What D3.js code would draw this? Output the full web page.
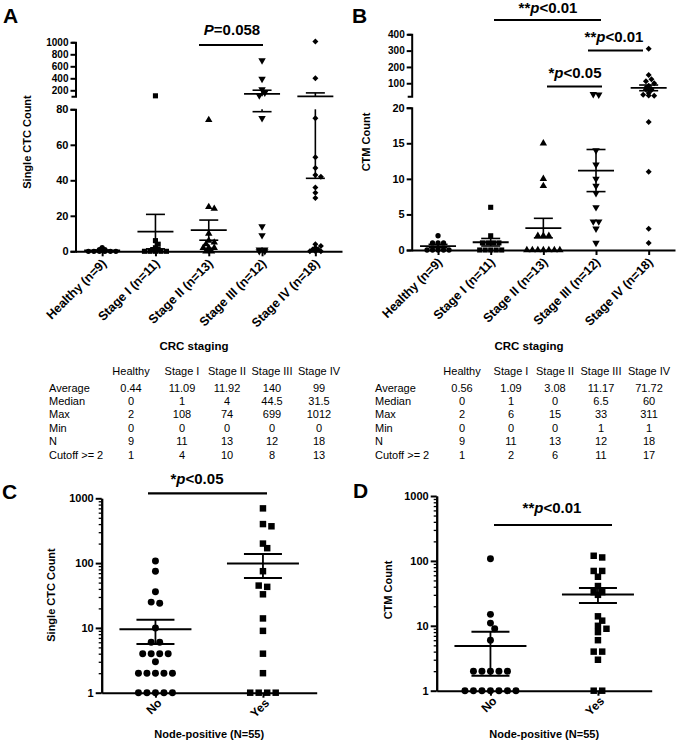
<!DOCTYPE html>
<html><head><meta charset="utf-8">
<script src="https://cdn.jsdelivr.net/npm/d3@7"></script>
<style>
body{margin:0;background:#fff}
svg{display:block}
text{font-family:"Liberation Sans",Arial,Helvetica,sans-serif;fill:#000}
</style>
</head><body>
<svg id="c" width="677" height="742"></svg>
<script>
// ---------------- DATA ----------------
const stageGroups = ["Healthy (n=9)", "Stage I (n=11)", "Stage II (n=13)", "Stage III (n=12)", "Stage IV (n=18)"];
const stageMarkers = ["circle", "square", "triUp", "triDown", "diamond"];

// Panel A: single CTC count per stage
const ctcHealthy = [2, 1, 1, 0, 0, 0, 0, 0, 0];
const ctcStage1 = [108, 6, 4, 2, 1, 1, 0, 0, 0, 0, 0];
const ctcStage2 = [74, 25, 24, 10, 6, 5, 4, 2, 2, 2, 1, 0, 0];
const ctcStage3 = [699, 390, 215, 160, 116, 75, 14, 9, 1, 1, 0, 0];
const ctcStage4 = [1012, 400, 75, 53, 47, 43, 42, 36, 33, 30, 4, 3, 2, 1, 1, 0, 0, 0];
const ctcLowTicks = [0, 20, 40, 60, 80];
const ctcUpTicks = [200, 400, 600, 800, 1000];

// Panel B: CTM count per stage
const ctmHealthy = [2, 1, 1, 1, 0, 0, 0, 0, 0];
const ctmStage1 = [6, 2, 1, 1, 1, 1, 0, 0, 0, 0, 0];
const ctmStage2 = [15, 10, 9, 2, 2, 2, 0, 0, 0, 0, 0, 0, 0];
const ctmStage3 = [33, 30, 14, 12, 10, 9, 8, 6, 4, 4, 3, 1];
const ctmStage4 = [311, 150, 124, 113, 100, 85, 72, 64, 61, 59, 40, 30, 25, 24, 18, 11, 3, 1];
const ctmLowTicks = [0, 5, 10, 15, 20];
const ctmUpTicks = [100, 200, 300, 400];

// Summary tables
const statHeaders = ["Healthy", "Stage I", "Stage II", "Stage III", "Stage IV"];
const statLabels = ["Average", "Median", "Max", "Min", "N", "Cutoff >= 2"];
const ctcStats = [
  ["0.44", "11.09", "11.92", "140", "99"],
  ["0", "1", "4", "44.5", "31.5"],
  ["2", "108", "74", "699", "1012"],
  ["0", "0", "0", "0", "0"],
  ["9", "11", "13", "12", "18"],
  ["1", "4", "10", "8", "13"]
];
const ctmStats = [
  ["0.56", "1.09", "3.08", "11.17", "71.72"],
  ["0", "1", "0", "6.5", "60"],
  ["2", "6", "15", "33", "311"],
  ["0", "0", "0", "1", "1"],
  ["9", "11", "13", "12", "18"],
  ["1", "2", "6", "11", "17"]
];

// Panels C/D: node-positive
const nodeGroups = ["No", "Yes"];
const nodeMarkers = ["circle", "square"];
const ctcNodeNo = [108, 75, 36, 25, 24, 10, 6, 6, 4, 4, 4, 4, 3, 2, 2, 2, 2, 2, 1, 1, 1, 1, 1, 0, 0, 0, 0, 0, 0, 0, 0, 0, 0, 0];
const ctcNodeYes = [699, 400, 370, 200, 170, 75, 45, 43, 33, 14, 9, 4, 2, 1, 1, 1, 1, 0, 0, 0, 0];
const ctmNodeNo = [108, 15, 11, 9, 6, 2, 2, 2, 2, 2, 1, 1, 1, 1, 1, 1, 1, 0, 0, 0, 0, 0, 0, 0, 0, 0, 0, 0, 0, 0, 0, 0, 0, 0];
const ctmNodeYes = [120, 113, 70, 70, 57, 41, 33, 33, 30, 14, 12, 10, 9, 8, 6, 4, 4, 3, 1, 1, 0];
const logTicks = [1, 10, 100, 1000];

// ---------------- HELPERS ----------------
const svg = d3.select("#c");
svg.append("rect").attr("width", 677).attr("height", 742).attr("fill", "#fff");

function sem(a) { return d3.deviation(a) / Math.sqrt(a.length); }

function markerPath(type, area) {
  const t = (type === "circle") ? d3.symbolCircle : (type === "triUp" || type === "triDown") ? d3.symbolTriangle : d3.symbolSquare;
  return d3.symbol(t, area)();
}
function markerRot(type) { return type === "triDown" ? 180 : type === "diamond" ? 45 : 0; }

// GraphPad-like scatter layout: rows of near-equal pixel y, centred, with collision shift
function swarm(values, yf, cx, s, T, size) {
  const pts = values.map(v => ({ v, y: yf(v) })).sort((a, b) => a.y - b.y);
  const rows = [];
  for (const p of pts) {
    const r = rows[rows.length - 1];
    if (r && Math.abs(p.y - r[0].y) < T) r.push(p); else rows.push([p]);
  }
  const order = rows.map((r, i) => i).sort((a, b) => rows[b].length - rows[a].length || a - b);
  const placed = [];
  const shifts = [0, s / 2, -s / 2, s, -s];
  for (const i of order) {
    const r = rows[i];
    const base = r.map((p, k) => (k - (r.length - 1) / 2) * s);
    let chosen = 0;
    for (const sh of shifts) {
      const ok = r.every((p, k) => placed.every(q => Math.hypot(q.x - (cx + base[k] + sh), q.y - p.y) >= 0.85 * size));
      if (ok) { chosen = sh; break; }
    }
    r.forEach((p, k) => { p.x = cx + base[k] + chosen; placed.push(p); });
  }
  return pts;
}

function styleAxis(sel, fs) {
  sel.select(".domain").attr("stroke", "#000").attr("stroke-width", 2);
  sel.selectAll(".tick line").attr("stroke", "#000").attr("stroke-width", 2);
  sel.selectAll(".tick text").attr("font-size", fs).attr("font-weight", "bold")
    .attr("font-family", "'Liberation Sans',Arial,sans-serif").attr("fill", "#000");
}

function sigLabel(x, y, parts, fs) {
  const t = svg.append("text").attr("x", x).attr("y", y).attr("text-anchor", "middle")
    .attr("font-weight", "bold").attr("font-size", fs);
  parts.forEach(([s, it]) => t.append("tspan").text(s).attr("font-style", it ? "italic" : null));
}
function sigLine(x1, x2, y) {
  svg.append("line").attr("x1", x1).attr("x2", x2).attr("y1", y).attr("y2", y)
    .attr("stroke", "#000").attr("stroke-width", 2.2);
}

function panelLetter(t, x, y) {
  svg.append("text").attr("x", x).attr("y", y).attr("font-size", 21).attr("font-weight", "bold").text(t);
}

function yTitle(t, x, y, fs) {
  svg.append("text").attr("transform", `translate(${x},${y}) rotate(-90)`).attr("text-anchor", "middle")
    .attr("font-size", fs).attr("font-weight", "bold").text(t);
}

// ---------------- BROKEN-AXIS PANELS (A, B) ----------------
function brokenPanel(o) {
  const g = svg.append("g");
  const x = d3.scalePoint().domain(stageGroups).range([o.x0, o.x1]).padding(0.5);
  const yL = d3.scaleLinear().domain(o.lowDomain).range(o.lowRange);
  const yU = d3.scaleLinear().domain(o.upDomain).range(o.upRange);
  const brk = o.lowDomain[1];
  const yv = v => v > brk ? yU(v) : yL(v);

  const aL = g.append("g").attr("transform", `translate(${o.x0},0)`)
    .call(d3.axisLeft(yL).tickValues(o.lowTicks).tickSize(5).tickSizeOuter(5).tickPadding(2).tickFormat(d3.format("d")));
  styleAxis(aL, 11);
  const aU = g.append("g").attr("transform", `translate(${o.x0},0)`)
    .call(d3.axisLeft(yU).tickValues(o.upTicks).tickSize(5).tickSizeOuter(4).tickPadding(2).tickFormat(d3.format("d")));
  styleAxis(aU, 10);
  const aX = g.append("g").attr("transform", `translate(0,${o.lowRange[0]})`)
    .call(d3.axisBottom(x).tickSize(5).tickSizeOuter(0).tickFormat(""));
  styleAxis(aX, 12);

  stageGroups.forEach((gname, i) => {
    const cx = x(gname);
    g.append("text").attr("transform", `translate(${cx + 5},${o.lowRange[0] + 13}) rotate(-45)`)
      .attr("text-anchor", "end").attr("font-size", 12.5).attr("font-weight", "bold").text(gname);

    const vals = o.series[i];
    const m = d3.mean(vals), se = sem(vals), lo = m - se, hi = m + se;
    const line = (x1, x2, y1, y2, w) => g.append("line").attr("x1", x1).attr("x2", x2).attr("y1", y1).attr("y2", y2)
      .attr("stroke", "#000").attr("stroke-width", w);
    if (lo < brk) line(cx, cx, yL(Math.max(lo, o.lowDomain[0])), yL(Math.min(hi, brk)), 1.6);
    if (hi > brk) line(cx, cx, yU(Math.max(lo, o.upDomain[0])), yU(hi), 1.6);
    line(cx - 18, cx + 18, yv(m), yv(m), 1.8);
    line(cx - 9.5, cx + 9.5, yv(lo), yv(lo), 1.6);
    line(cx - 9.5, cx + 9.5, yv(hi), yv(hi), 1.6);

    const pts = swarm(vals, yv, cx, 5.5, 1.5, 5);
    const type = stageMarkers[i];
    const area = type === "circle" ? 22 : type === "square" ? 26 : type === "diamond" ? 18 : 24;
    g.selectAll(null).data(pts).join("path")
      .attr("d", markerPath(type, area))
      .attr("transform", d => `translate(${d.x},${d.y}) rotate(${markerRot(type)})`)
      .attr("fill", "#000");
  });
}

brokenPanel({
  x0: 75.5, x1: 342, lowDomain: [0, 80], lowRange: [251.3, 109.3], upDomain: [100, 1000], upRange: [96.3, 42.3],
  lowTicks: ctcLowTicks, upTicks: ctcUpTicks, series: [ctcHealthy, ctcStage1, ctcStage2, ctcStage3, ctcStage4]
});
brokenPanel({
  x0: 411.7, x1: 675, lowDomain: [0, 20], lowRange: [250, 107.7], upDomain: [20, 400], upRange: [96.3, 34.3],
  lowTicks: ctmLowTicks, upTicks: ctmUpTicks, series: [ctmHealthy, ctmStage1, ctmStage2, ctmStage3, ctmStage4]
});

panelLetter("A", 3, 23);
panelLetter("B", 352, 23);
yTitle("Single CTC Count", 31, 142, 11);
yTitle("CTM Count", 370, 142, 11);

sigLine(199, 263, 45);
sigLabel(232, 35, [["P", true], ["=0.058", false]], 15);
sigLine(494, 601, 20);
sigLabel(548, 12.5, [["**", false], ["p", true], ["<0.01", false]], 15);
sigLine(588, 643, 50.5);
sigLabel(614, 42, [["**", false], ["p", true], ["<0.01", false]], 15);
sigLine(547, 602, 86.5);
sigLabel(575, 78, [["*", false], ["p", true], ["<0.05", false]], 15);

// titles + tables
function statTable(x0Label, cols, rows, titleX) {
  svg.append("text").attr("x", titleX).attr("y", 350).attr("text-anchor", "middle")
    .attr("font-size", 11.5).attr("font-weight", "bold").text("CRC staging");
  const rowY = d3.scalePoint().domain(statLabels).range([391.5, 458.7]);
  statHeaders.forEach((h, j) => svg.append("text").attr("x", cols[j]).attr("y", 375)
    .attr("text-anchor", "middle").attr("font-size", 11).text(h));
  statLabels.forEach((lab, r) => {
    svg.append("text").attr("x", x0Label).attr("y", rowY(lab)).attr("font-size", 11).text(lab);
    rows[r].forEach((v, j) => svg.append("text").attr("x", cols[j]).attr("y", rowY(lab))
      .attr("text-anchor", "middle").attr("font-size", 11).text(v));
  });
}
statTable(49, [131, 182, 227, 272, 319], ctcStats, 194);
statTable(375, [462, 511, 555, 601, 649], ctmStats, 529);

// ---------------- LOG PANELS (C, D) ----------------
function logPanel(o) {
  const g = svg.append("g");
  const x = d3.scalePoint().domain(nodeGroups).range([o.x0, o.x1]).padding(0.5);
  const y = d3.scaleLog().domain([1, 1000]).range(o.yRange);
  const minor = [];
  [1, 10, 100].forEach(k => { for (let m = 2; m <= 9; m++) minor.push(m * k); });
  const aMin = g.append("g").attr("transform", `translate(${o.x0},0)`)
    .call(d3.axisLeft(y).tickValues(minor).tickSize(3).tickSizeOuter(0).tickFormat(""));
  styleAxis(aMin, 11);
  aMin.selectAll(".tick line").attr("stroke-width", 1.3);
  const aMaj = g.append("g").attr("transform", `translate(${o.x0},0)`)
    .call(d3.axisLeft(y).tickValues(logTicks).tickSize(6).tickSizeOuter(0).tickPadding(2).tickFormat(d3.format("d")));
  styleAxis(aMaj, 11);
  const aX = g.append("g").attr("transform", `translate(0,${o.yRange[0]})`)
    .call(d3.axisBottom(x).tickSize(5).tickSizeOuter(0).tickFormat(""));
  styleAxis(aX, 11);

  nodeGroups.forEach((gname, i) => {
    const cx = x(gname);
    g.append("text").attr("transform", `translate(${cx + 7},${o.yRange[0] + 11}) rotate(-45)`)
      .attr("text-anchor", "end").attr("font-size", 12).attr("font-weight", "bold").text(gname);
    const vals = o.series[i];
    const m = d3.mean(vals), se = sem(vals), lo = m - se, hi = m + se;
    const line = (x1, x2, y1, y2, w) => g.append("line").attr("x1", x1).attr("x2", x2).attr("y1", y1).attr("y2", y2)
      .attr("stroke", "#000").attr("stroke-width", w);
    line(cx, cx, y(Math.max(lo, 1)), y(hi), 1.8);
    line(cx - 36, cx + 36, y(m), y(m), 2);
    line(cx - 19, cx + 19, y(Math.max(lo, 1)), y(Math.max(lo, 1)), 2);
    line(cx - 19, cx + 19, y(hi), y(hi), 2);
    const pts = swarm(vals.filter(v => v > 0), y, cx, 8.5, 2, 7);
    const type = nodeMarkers[i];
    g.selectAll(null).data(pts).join("path")
      .attr("d", markerPath(type, type === "circle" ? 38 : 42))
      .attr("transform", d => `translate(${d.x},${d.y})`).attr("fill", "#000");
  });
  svg.append("text").attr("x", (o.x0 + o.x1) / 2).attr("y", 738).attr("text-anchor", "middle")
    .attr("font-size", 11).attr("font-weight", "bold").text("Node-positive (N=55)");
}

logPanel({ x0: 101.7, x1: 316.7, yRange: [692.7, 498.3], series: [ctcNodeNo, ctcNodeYes] });
logPanel({ x0: 436.7, x1: 651.7, yRange: [690.7, 496], series: [ctmNodeNo, ctmNodeYes] });

panelLetter("C", 2, 499);
panelLetter("D", 353, 498);
yTitle("Single CTC Count", 55, 595, 11);
yTitle("CTM Count", 392, 590, 11);

sigLine(148, 267, 493.3);
sigLabel(197, 484, [["*", false], ["p", true], ["<0.05", false]], 15);
sigLine(494, 612, 525);
sigLabel(552, 513, [["**", false], ["p", true], ["<0.01", false]], 15);
</script>
</body></html>
